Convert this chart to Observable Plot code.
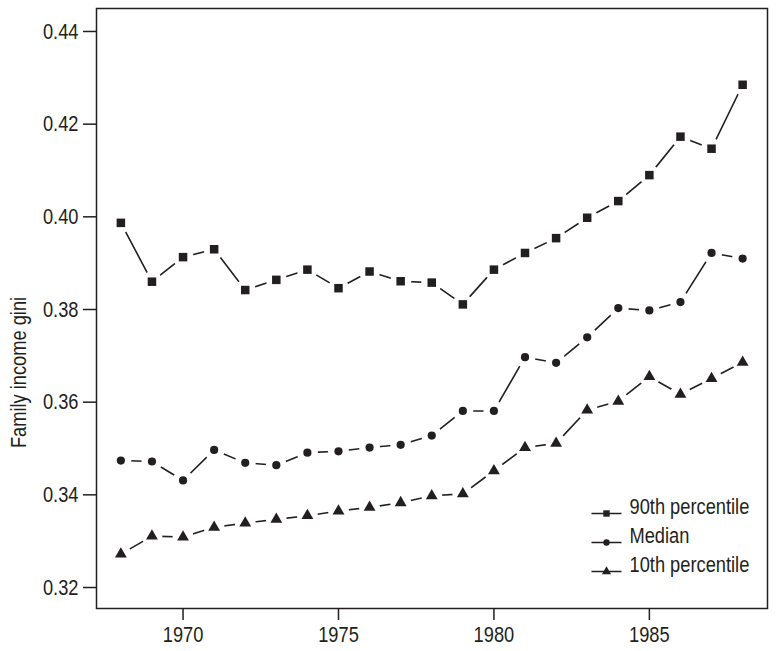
<!DOCTYPE html>
<html><head><meta charset="utf-8">
<script src="https://cdn.jsdelivr.net/npm/d3@7"></script>
<script src="https://cdn.jsdelivr.net/npm/@observablehq/plot@0.6"></script>
<style>html,body{margin:0;padding:0;background:#fff}</style>
</head><body><div id="chart"></div>
<script>
const years = [1968,1969,1970,1971,1972,1973,1974,1975,1976,1977,1978,1979,1980,1981,1982,1983,1984,1985,1986,1987,1988];
const p90 = [0.3987,0.3860,0.3913,0.3930,0.3842,0.3864,0.3886,0.3846,0.3882,0.3861,0.3858,0.3811,0.3886,0.3922,0.3954,0.3998,0.4034,0.4090,0.4173,0.4147,0.4285];
const median = [0.3474,0.3472,0.3431,0.3497,0.3469,0.3464,0.3491,0.3494,0.3502,0.3508,0.3528,0.3581,0.3581,0.3697,0.3685,0.3740,0.3803,0.3798,0.3816,0.3922,0.3910];
const p10 = [0.3272,0.3311,0.3309,0.3330,0.3339,0.3347,0.3355,0.3365,0.3373,0.3383,0.3398,0.3402,0.3452,0.3502,0.3511,0.3583,0.3602,0.3655,0.3617,0.3651,0.3686];
const seriesNames = ["90th percentile","Median","10th percentile"];
const seriesSymbols = ["square","circle","triangle"];
const yTicks = [0.32,0.34,0.36,0.38,0.40,0.42,0.44];
const xTicks = [1970,1975,1980,1985];
const yLabel = "Family income gini";

const seriesValues = [p90, median, p10];
const markerR = {square: 4.8, circle: 4.1, triangle: 4.4};
const legendR = {square: 3.6, circle: 3.2, triangle: 3.4};
const ink = "#231f20";

function hasFont(f){
  const c = document.createElement("canvas").getContext("2d");
  const s = "90th percentile Family 0.44";
  c.font = "22px monospace"; const a = c.measureText(s).width;
  c.font = `22px "${f}", monospace`; const b = c.measureText(s).width;
  return Math.abs(a-b) > 0.5;
}
const narrow = hasFont("Liberation Sans Narrow");
const fontFamily = narrow ? "'Liberation Sans Narrow', sans-serif" : "'Liberation Sans', Arial, sans-serif";
const fontSize = 22;
const squeeze = narrow ? 1 : 0.83;

const rows = seriesNames.map((name,i)=> years.map((yr,j)=>({year: yr, value: seriesValues[i][j], series: name})));
const all = rows.flat();

const lineSym = {draw(ctx){ ctx.moveTo(-15,0); ctx.lineTo(15,0); }};

const marks = [
  Plot.frame({stroke: ink, strokeWidth: 1.5}),
  Plot.axisY({ticks: yTicks, tickFormat: d => d.toFixed(2), tickSize: 13, tickPadding: 5, label: null, stroke: ink, strokeWidth: 1.5, fill: ink}),
  Plot.axisX({ticks: xTicks, tickFormat: d => String(d), tickSize: 12, tickPadding: 6, label: null, stroke: ink, strokeWidth: 1.5, fill: ink}),
  ...rows.map(r => Plot.line(r, {x: "year", y: "value", stroke: ink, strokeWidth: 1.6})),
  Plot.dot(all, {x: "year", y: "value", r: 10.5, fill: "white", stroke: null}),
  ...rows.map((r,i) => Plot.dot(r, {x: "year", y: "value", symbol: seriesSymbols[i], r: markerR[seriesSymbols[i]], fill: ink, stroke: null})),
  Plot.text([yLabel], {text: d => d, frameAnchor: "left", textAnchor: "middle", dx: -78, dy: 64, rotate: -90, fill: ink}),
  ...seriesNames.flatMap((name,i) => {
    const dy = -95 + i*29;
    return [
      Plot.dot([name], {frameAnchor: "bottom-right", dx: -161, dy, symbol: lineSym, r: 5, stroke: ink, strokeWidth: 1.5, fill: "none"}),
      Plot.dot([name], {frameAnchor: "bottom-right", dx: -161, dy, symbol: seriesSymbols[i], r: legendR[seriesSymbols[i]], fill: ink, stroke: null}),
      Plot.text([name], {text: d => d, frameAnchor: "bottom-right", dx: -138, dy, textAnchor: "start", fill: ink})
    ];
  })
];

const chart = Plot.plot({
  width: 776, height: 651,
  marginLeft: 96, marginRight: 9, marginTop: 8, marginBottom: 43,
  x: {domain: [1967.216, 1988.80]},
  y: {domain: [0.31547, 0.44496]},
  style: {fontFamily, fontSize: fontSize + "px", color: ink, background: "white"},
  marks
});
document.getElementById("chart").appendChild(chart);

// condensed look: compress glyphs horizontally to mimic the reference's narrow typeface
if (squeeze !== 1) {
  chart.querySelectorAll("text").forEach(t => {
    const w = t.getComputedTextLength();
    if (w > 0) {
      t.setAttribute("textLength", (w * squeeze).toFixed(2));
      t.setAttribute("lengthAdjust", "spacingAndGlyphs");
    }
  });
}
</script>
</body></html>
